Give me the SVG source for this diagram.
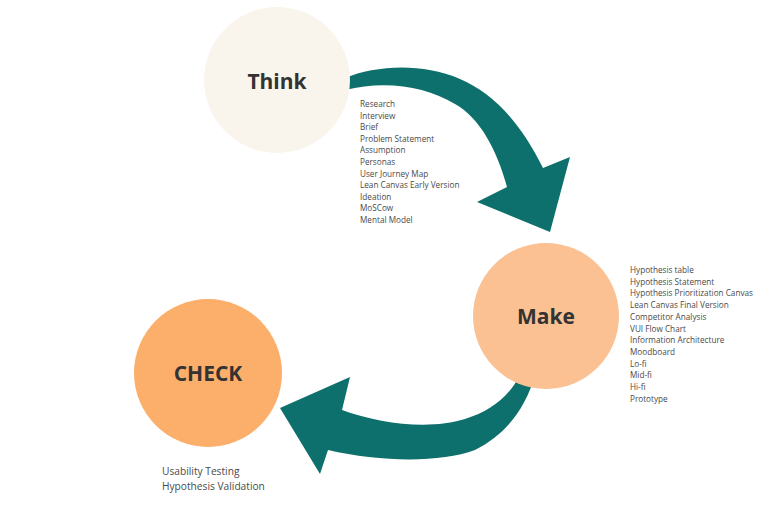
<svg xmlns="http://www.w3.org/2000/svg" width="782" height="532" viewBox="0 0 782 532">
<style>
.title{font-family:"Open Sans","Noto Sans","Liberation Sans",sans-serif;font-weight:bold;font-size:21px;fill:#333;text-anchor:middle}
.item{font-family:"Open Sans","Noto Sans","Liberation Sans",sans-serif;font-size:8.2px;fill:#4a4a4a}
.item2{font-family:"Open Sans","Noto Sans","Liberation Sans",sans-serif;font-size:10.2px;fill:#4a4a4a}
.arrow{fill:#0E706C}
</style>
<rect width="782" height="532" fill="#fff"/>
<g id="connectors">
<path class="arrow" d="M345,78 C375,66 420,62 460,79 C495,94 522,125 543,168 L570,157 L550,232 L477,202 L507,187 C497,150 480,118 455,104 C425,86 385,80 345,90 Z"/>
<path class="arrow" d="M280,408 L350,377 L342,410 C380,424 430,430 465,419 C490,411 508,398 520,375 L535,375 C525,410 505,435 475,450 C440,463 380,462 328,450 L320,474 Z"/>
</g>
<g id="think">
<circle cx="277" cy="80" r="73" fill="#FAF5EC"/>
<text class="title" x="277" y="88.5">Think</text>
<text class="item" x="360" y="107">Research</text>
<text class="item" x="360" y="118.6">Interview</text>
<text class="item" x="360" y="130.2">Brief</text>
<text class="item" x="360" y="141.8">Problem Statement</text>
<text class="item" x="360" y="153.4">Assumption</text>
<text class="item" x="360" y="165">Personas</text>
<text class="item" x="360" y="176.6">User Journey Map</text>
<text class="item" x="360" y="188.2">Lean Canvas Early Version</text>
<text class="item" x="360" y="199.8">Ideation</text>
<text class="item" x="360" y="211.4">MoSCow</text>
<text class="item" x="360" y="223">Mental Model</text>
</g>
<g id="make">
<circle cx="546" cy="316" r="73" fill="#FCC192"/>
<text class="title" x="546" y="324">Make</text>
<text class="item" x="630" y="273">Hypothesis table</text>
<text class="item" x="630" y="284.7">Hypothesis Statement</text>
<text class="item" x="630" y="296.4">Hypothesis Prioritization Canvas</text>
<text class="item" x="630" y="308.1">Lean Canvas Final Version</text>
<text class="item" x="630" y="319.8">Competitor Analysis</text>
<text class="item" x="630" y="331.5">VUI Flow Chart</text>
<text class="item" x="630" y="343.2">Information Architecture</text>
<text class="item" x="630" y="354.9">Moodboard</text>
<text class="item" x="630" y="366.6">Lo-fi</text>
<text class="item" x="630" y="378.3">Mid-fi</text>
<text class="item" x="630" y="390">Hi-fi</text>
<text class="item" x="630" y="401.7">Prototype</text>
</g>
<g id="check">
<circle cx="208" cy="373" r="74" fill="#FCAE6B"/>
<text class="title" x="208" y="381">CHECK</text>
<text class="item2" x="162" y="475">Usability Testing</text>
<text class="item2" x="162" y="490">Hypothesis Validation</text>
</g>
</svg>
